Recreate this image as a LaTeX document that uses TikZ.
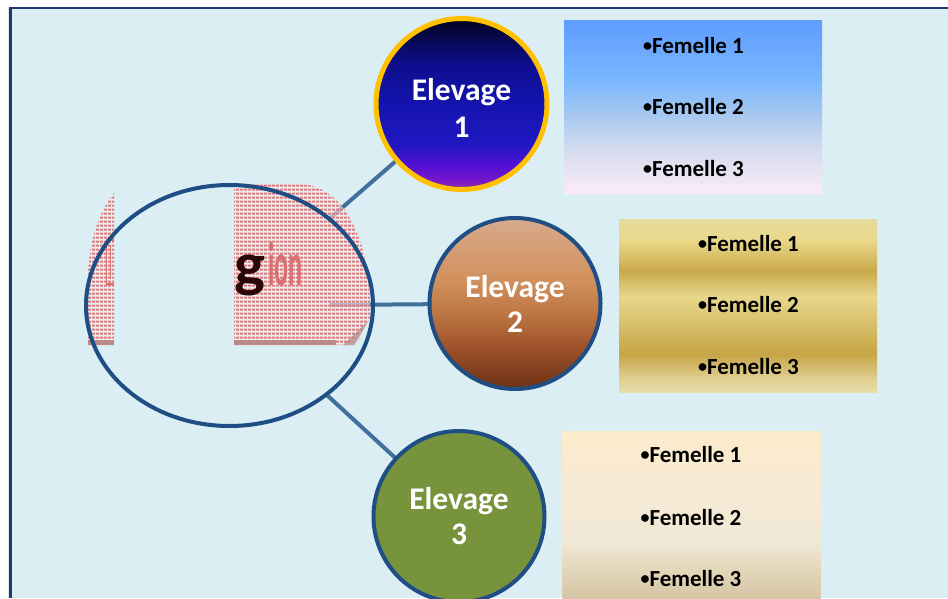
\documentclass[tikz,border=0pt]{standalone}
\usepackage{fontspec}
\setmainfont{Carlito}
\usetikzlibrary{shapes.geometric,patterns}

% palette
\definecolor{bgblue}{HTML}{DBEEF4}
\definecolor{framecol}{HTML}{1F3A70}
\definecolor{ringblue}{HTML}{1F4E85}
\definecolor{linkblue}{HTML}{41709E}
\definecolor{goldring}{HTML}{FFC000}
\definecolor{olive}{HTML}{77933C}
\definecolor{speck}{HTML}{DE7A7A}
\definecolor{speckbase}{HTML}{F2EEF0}
\definecolor{speckband}{HTML}{B98A8A}
\definecolor{inkred}{HTML}{D87070}
\definecolor{inkdark}{HTML}{2A0606}

% night-blue ball
\definecolor{na}{HTML}{8C3C98}
\definecolor{nb}{HTML}{7A16CA}
\definecolor{nc}{HTML}{5410D4}
\definecolor{nd}{HTML}{2018C2}
\definecolor{ne}{HTML}{1414AE}
\definecolor{nf}{HTML}{0E0E8C}
\definecolor{ng}{HTML}{070748}
\definecolor{nh}{HTML}{02021A}
\pgfdeclareverticalshading{nightball}{100bp}{color(0bp)=(na); color(25bp)=(na);
  color(27.5bp)=(nb); color(32bp)=(nc); color(38bp)=(nd); color(50bp)=(ne);
  color(62bp)=(nf); color(70bp)=(ng); color(75bp)=(nh); color(100bp)=(nh)}

% copper ball
\definecolor{ca}{HTML}{6B3216}
\definecolor{cb}{HTML}{A0522A}
\definecolor{cc}{HTML}{BE7844}
\definecolor{cd}{HTML}{D2925F}
\definecolor{ce}{HTML}{D8AA8C}
\pgfdeclareverticalshading{copperball}{100bp}{color(0bp)=(ca); color(25bp)=(ca);
  color(37.5bp)=(cb); color(47.5bp)=(cc); color(57.5bp)=(cd); color(75bp)=(ce);
  color(100bp)=(ce)}

% sky panel
\definecolor{sa}{HTML}{FCEAF8}
\definecolor{sb}{HTML}{D4DCEE}
\definecolor{sc}{HTML}{A8C8F0}
\definecolor{sd}{HTML}{7AB8FF}
\definecolor{se}{HTML}{5E9CFF}
\pgfdeclareverticalshading{skypanel}{100bp}{color(0bp)=(sa); color(25bp)=(sa);
  color(37.5bp)=(sb); color(47.5bp)=(sc); color(57.5bp)=(sd); color(75bp)=(se);
  color(100bp)=(se)}

% gold panel
\definecolor{ga}{HTML}{E8DCA8}
\definecolor{gb}{HTML}{E0CE90}
\definecolor{gc}{HTML}{C6A545}
\definecolor{gd}{HTML}{D9C06C}
\definecolor{ge}{HTML}{E8D68A}
\definecolor{gf}{HTML}{C9A94B}
\definecolor{gg}{HTML}{EAD98A}
\definecolor{gh}{HTML}{E6DBA0}
\pgfdeclareverticalshading{goldpanel}{100bp}{color(0bp)=(ga); color(25bp)=(ga);
  color(29bp)=(gb); color(36bp)=(gc); color(45bp)=(gd); color(52.5bp)=(ge);
  color(60bp)=(gf); color(69bp)=(gg); color(75bp)=(gh); color(100bp)=(gh)}

% sand panel
\definecolor{pa}{HTML}{D2C1A0}
\definecolor{pb}{HTML}{E3D7BA}
\definecolor{pc}{HTML}{EFE7D5}
\definecolor{pd}{HTML}{F5EAD5}
\definecolor{pe}{HTML}{FDEBCC}
\pgfdeclareverticalshading{sandpanel}{100bp}{color(0bp)=(pa); color(25bp)=(pa);
  color(35bp)=(pb); color(42.5bp)=(pc); color(55bp)=(pd); color(75bp)=(pe);
  color(100bp)=(pe)}

% speckled raster texture
\pgfdeclarepatternformonly{speckle}{\pgfqpoint{0pt}{0pt}}{\pgfqpoint{4pt}{4pt}}{\pgfqpoint{4pt}{4pt}}{%
  \pgfpathrectangle{\pgfqpoint{0.3pt}{0.6pt}}{\pgfqpoint{1.6pt}{2.4pt}}%
  \pgfpathrectangle{\pgfqpoint{2.3pt}{0.6pt}}{\pgfqpoint{1.6pt}{2.4pt}}%
  \pgfusepath{fill}}

% small list bullet
\newcommand\listdot{\raisebox{1.8pt}{\fontsize{18}{18}\selectfont •}}

\tikzset{
  ball/.style={circle, inner sep=0pt, outer sep=0pt, minimum size=171pt, line width=4pt},
  panel/.style={rectangle, inner sep=0pt, outer sep=0pt, minimum width=258pt, minimum height=173pt},
  link/.style={draw=linkblue, line width=4pt},
  elabel/.style={text=white, font=\fontsize{31.5}{36}\selectfont\bfseries, anchor=base, inner sep=0pt},
  flabel/.style={text=black, font=\fontsize{23}{27}\selectfont\bfseries, anchor=base, inner sep=0pt},
  rasterbase/.style={fill=speckbase, fill opacity=0.6},
  raster/.style={pattern=speckle, pattern color=speck},
}

\begin{document}
\begin{tikzpicture}[x=1pt, y=-1pt]
\path[use as bounding box, clip] (0,0) rectangle (948,598);
\fill[white] (0,0) rectangle (948,598);

% slide frame
\fill[black!10] (7.8,8) rectangle (9.3,598);
\fill[framecol] (9.3,7) rectangle (948,8.7);
\fill[framecol] (9.3,7) rectangle (11.7,598);
\fill[bgblue] (11.7,8.7) rectangle (948,598);

% hub and spokes
\node[ellipse, inner sep=0pt, outer sep=0pt, minimum width=287pt, minimum height=241pt] (reg) at (229.5,305.5) {};
\coordinate (hub) at (330,305);
\node[ball] (c1) at (461.5,104) {};
\node[ball] (c2) at (515,303.5) {};
\node[ball] (c3) at (459,516.5) {};

\draw[link] (reg) -- (c1);
\draw[link] (reg) -- (c3);
\draw[link] (hub) -- (c2);

% raster picture inside the hub
\path[rasterbase] (234,184) -- (300,184) .. controls (345,186) and (368,240) .. (370,300)
  -- (370,318) .. controls (362,330) and (356,340) .. (348,345) -- (234,345) -- cycle;
\path[raster] (234,184) -- (300,184) .. controls (345,186) and (368,240) .. (370,300)
  -- (370,318) .. controls (362,330) and (356,340) .. (348,345) -- (234,345) -- cycle;
\fill[speckband, opacity=0.75] (343,345) -- (368,321) .. controls (362,332) and (358,340) .. (354,345) -- cycle;
\fill[speckband] (234,340) rectangle (336,345);
\path[rasterbase] (114,193) .. controls (100,210) and (89,240) .. (88,275) -- (88,345) -- (114,345) -- cycle;
\path[raster] (114,193) .. controls (100,210) and (89,240) .. (88,275) -- (88,345) -- (114,345) -- cycle;
\fill[speckband] (88,340) rectangle (114,345);
\draw[inkred, line width=1.3pt] (114,240) -- (106.5,240) -- (106.5,284) -- (114,284);
\draw[inkred, line width=1.3pt] (110.5,246) -- (110.5,279);
\node[anchor=base west, inner sep=0pt, text=inkdark] (gpart) at (234,285)
  {\scalebox{1.05}[1]{\fontsize{62}{62}\selectfont\bfseries g}};
\node[anchor=base west, inner sep=0pt, text=inkred] (ionpart) at (268,285)
  {\scalebox{0.42}[1]{\fontsize{62}{62}\selectfont\bfseries ion}};

\draw[ringblue, line width=4pt] (reg.center) ellipse [x radius=143.5pt, y radius=120.5pt];

% breeding units
\path[ball, draw=goldring, line width=5pt, shading=nightball] (c1.center) circle [radius=85.5pt];
\path[ball, draw=ringblue, shading=copperball] (c2.center) circle [radius=85.5pt];
\path[ball, draw=ringblue, fill=olive] (c3.center) circle [radius=85.5pt];

\node[elabel] (e1a) at (461.5,100) {Elevage};
\node[elabel] (e1b) at (461.5,137) {1};
\node[elabel] (e2a) at (515,297) {Elevage};
\node[elabel] (e2b) at (515,332) {2};
\node[elabel] (e3a) at (459,509) {Elevage};
\node[elabel] (e3b) at (459,544) {3};

% female lists
\node[panel, shading=skypanel] (b1) at (693,106.5) {};
\node[panel, shading=goldpanel] (b2) at (748,305.5) {};
\node[panel, shading=sandpanel] (b3) at (691.5,517.5) {};

\node[flabel] (f11) at (693.5,53) {\listdot Femelle 1};
\node[flabel] (f12) at (693.5,114) {\listdot Femelle 2};
\node[flabel] (f13) at (693.5,176) {\listdot Femelle 3};
\node[flabel] (f21) at (748.5,251) {\listdot Femelle 1};
\node[flabel] (f22) at (748.5,312) {\listdot Femelle 2};
\node[flabel] (f23) at (748.5,374) {\listdot Femelle 3};
\node[flabel] (f31) at (691,462) {\listdot Femelle 1};
\node[flabel] (f32) at (691,525) {\listdot Femelle 2};
\node[flabel] (f33) at (691,586) {\listdot Femelle 3};
\end{tikzpicture}
\end{document}
